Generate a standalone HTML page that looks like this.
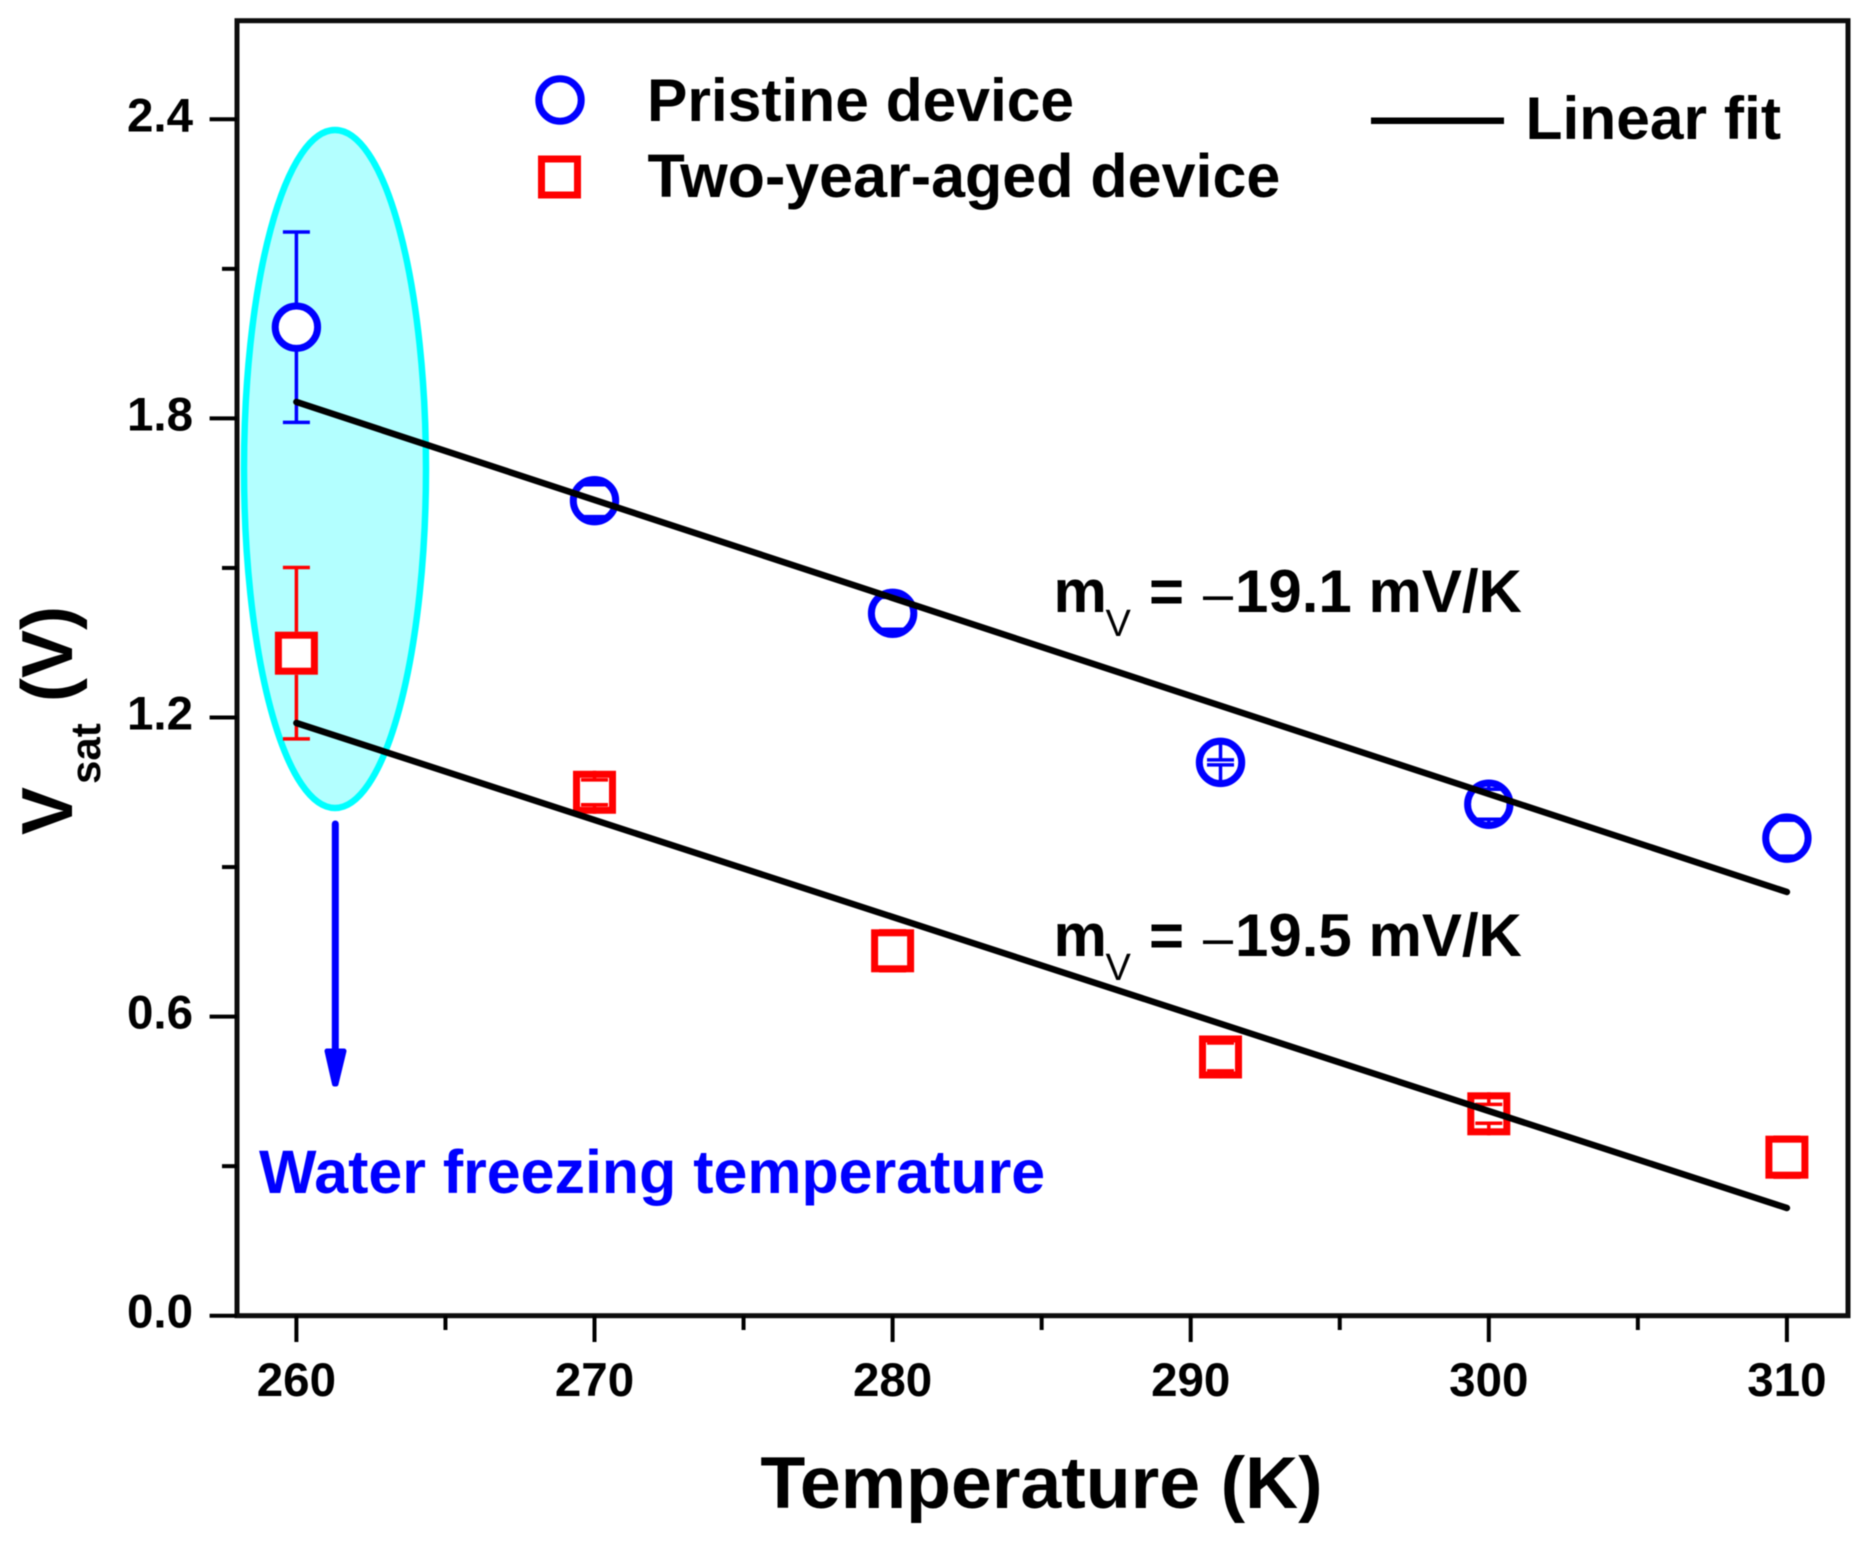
<!DOCTYPE html>
<html>
<head>
<meta charset="utf-8">
<title>Vsat vs Temperature</title>
<style>
html,body{margin:0;padding:0;background:#fff;width:1873px;height:1542px;overflow:hidden}
svg{display:block;filter:blur(0.5px)}
text{font-family:"Liberation Sans",Arial,sans-serif;font-weight:bold;fill:#000}
</style>
</head>
<body>
<svg id="chart" xmlns="http://www.w3.org/2000/svg" width="1873" height="1542" viewBox="0 0 1873 1542">
  <rect x="0" y="0" width="1873" height="1542" fill="#fff"/>
  <ellipse cx="335" cy="469" rx="91" ry="339" fill="#b3ffff" stroke="#00ffff" stroke-width="6.5"/>
  <g id="axes"></g>
  <g id="marks"></g>

  <g>
    <line x1="335.3" y1="824" x2="335.3" y2="1052" stroke="#0000ff" stroke-width="7" stroke-linecap="round"/>
    <polygon points="327,1051 344,1051 336,1084 334.5,1084" fill="#0000ff" stroke="#0000ff" stroke-width="5" stroke-linejoin="round"/>
  </g>
  <text x="259" y="1193" font-size="60.9" style="fill:#0000ff">Water freezing temperature</text>

  <g>
    <circle cx="560" cy="100" r="21.2" fill="#fff" stroke="#0000ff" stroke-width="7"/>
    <text x="647" y="121" font-size="60.5">Pristine device</text>
    <rect x="541.5" y="159" width="36" height="36" fill="#fff" stroke="#ff0000" stroke-width="7"/>
    <text x="647.5" y="197" font-size="61">Two-year-aged device</text>
    <line x1="1371" y1="120.7" x2="1504" y2="120.7" stroke="#000" stroke-width="6.5"/>
    <text x="1525.5" y="139" font-size="60.5">Linear fit</text>
  </g>

  <g>
    <text x="1053.5" y="612" font-size="60">m</text>
    <text x="1105.5" y="636" font-size="38" style="font-weight:normal">V</text>
    <text x="1149" y="612" font-size="60">=</text>
    <text x="1203" y="612" font-size="54" style="font-weight:normal">–</text>
    <text x="1235" y="612" font-size="60">19.1</text>
    <text x="1368.5" y="612" font-size="60">mV/K</text>
  </g>
  <g>
    <text x="1053.5" y="956" font-size="60">m</text>
    <text x="1105.5" y="980" font-size="38" style="font-weight:normal">V</text>
    <text x="1149" y="956" font-size="60">=</text>
    <text x="1203" y="956" font-size="54" style="font-weight:normal">–</text>
    <text x="1235" y="956" font-size="60">19.5</text>
    <text x="1368.5" y="956" font-size="60">mV/K</text>
  </g>

  <text x="1041.5" y="1508" font-size="73.5" text-anchor="middle">Temperature (K)</text>
  <g>
    <text transform="translate(72,835) rotate(-90)" font-size="72">V</text>
    <text transform="translate(100,784) rotate(-90)" font-size="42">sat</text>
    <text transform="translate(72,702) rotate(-90)" font-size="72">(V)</text>
  </g>
</svg>
<script>
var temperatures = [260, 270, 280, 291, 300, 310];
var pristineValues = [1.983, 1.635, 1.409, 1.110, 1.026, 0.958];
var pristineErrors = [0.191, 0.032, 0.032, 0.005, 0.030, 0.036];
var agedValues = [1.329, 1.050, 0.732, 0.519, 0.405, 0.318];
var agedErrors = [0.172, 0.025, 0.040, 0.028, 0.019, 0.040];
var fitTemperatures = [260, 310];
var pristineFit = [1.833, 0.850];
var agedFit = [1.189, 0.216];
var xTickLabels = ["260", "270", "280", "290", "300", "310"];
var xMajorTicks = [260, 270, 280, 290, 300, 310];
var xMinorTicks = [265, 275, 285, 295, 305];
var yTickLabels = ["0.0", "0.6", "1.2", "1.8", "2.4"];
var yMajorTicks = [0, 0.6, 1.2, 1.8, 2.4];
var yMinorTicks = [0.3, 0.9, 1.5, 2.1];

var NS = "http://www.w3.org/2000/svg";
var axes = document.getElementById("axes");
var marks = document.getElementById("marks");

function xScale(t) { return 296.4 + (t - 260) * 29.81; }
function yScale(v) { return 1315.7 - v * 498.5; }

function make(tag, parent, attrs) {
  var el = document.createElementNS(NS, tag);
  for (var k in attrs) { el.setAttribute(k, attrs[k]); }
  parent.appendChild(el);
  return el;
}

var LEFT = 237, RIGHT = 1848, TOP = 20.7, BOTTOM = 1315.7;
var frame = make("rect", axes, {x: LEFT, y: TOP, width: RIGHT - LEFT, height: BOTTOM - TOP, fill: "none", stroke: "#0d0d0d", "stroke-width": 5});



xMajorTicks.forEach(function (t, i) {
  var tick = make("line", axes, {x1: xScale(t), x2: xScale(t), y1: BOTTOM, y2: 1342, stroke: "#000", "stroke-width": 4});
  
  
  var label = make("text", axes, {x: xScale(t), y: 1396, "font-size": 47.5, "text-anchor": "middle"});
  label.textContent = xTickLabels[i];
  
  
});
xMinorTicks.forEach(function (t) {
  var tick = make("line", axes, {x1: xScale(t), x2: xScale(t), y1: BOTTOM, y2: 1330, stroke: "#000", "stroke-width": 4});
  
  
});
yMajorTicks.forEach(function (v, i) {
  var tick = make("line", axes, {x1: 209.6, x2: LEFT, y1: yScale(v), y2: yScale(v), stroke: "#000", "stroke-width": 4});
  
  
  var label = make("text", axes, {x: 193, y: yScale(v) + 12, "font-size": 47.5, "text-anchor": "end"});
  label.textContent = yTickLabels[i];
  
  
});
yMinorTicks.forEach(function (v) {
  var tick = make("line", axes, {x1: 222, x2: LEFT, y1: yScale(v), y2: yScale(v), stroke: "#000", "stroke-width": 4});
  
  
});

function drawErrorBar(t, v, e, half, color) {
  var cx = xScale(t), cy = yScale(v);
  [1, -1].forEach(function (sign) {
    var capY = yScale(v + sign * e);
    var edgeY = cy - sign * half;
    var stem = make("line", marks, {x1: cx, x2: cx, y1: capY, y2: edgeY, stroke: color, "stroke-width": 3.5});
    
    
    var cap = make("line", marks, {x1: cx - 13.5, x2: cx + 13.5, y1: capY, y2: capY, stroke: color, "stroke-width": 3.5});
    
    
  });
}

temperatures.forEach(function (t, i) {
  var aged = make("rect", marks, {x: xScale(t) - 18, y: yScale(agedValues[i]) - 18, width: 36, height: 36, fill: "#fff", stroke: "#ff0000", "stroke-width": 7});
  
  
  drawErrorBar(t, agedValues[i], agedErrors[i], 21.5, "#ff0000");

  var pristine = make("circle", marks, {cx: xScale(t), cy: yScale(pristineValues[i]), r: 21.2, fill: "#fff", stroke: "#0000ff", "stroke-width": 7});
  
  
  drawErrorBar(t, pristineValues[i], pristineErrors[i], 24, "#0000ff");
});

var pristineLine = make("line", marks, {x1: xScale(fitTemperatures[0]), y1: yScale(pristineFit[0]), x2: xScale(fitTemperatures[1]), y2: yScale(pristineFit[1]), stroke: "#000", "stroke-width": 6.5, "stroke-linecap": "round"});



var agedLine = make("line", marks, {x1: xScale(fitTemperatures[0]), y1: yScale(agedFit[0]), x2: xScale(fitTemperatures[1]), y2: yScale(agedFit[1]), stroke: "#000", "stroke-width": 6.5, "stroke-linecap": "round"});


</script>
</body>
</html>
